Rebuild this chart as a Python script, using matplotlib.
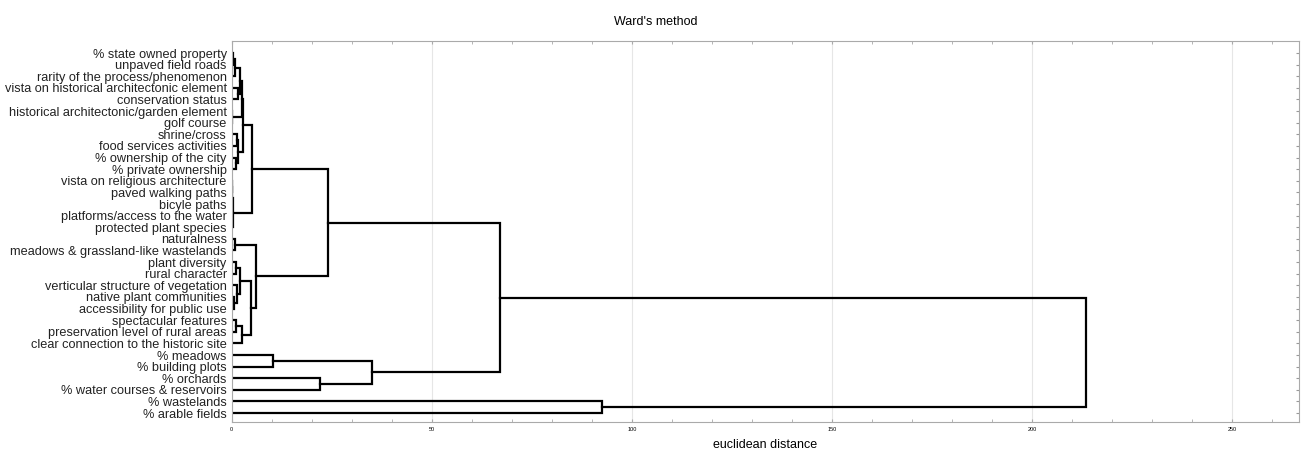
import matplotlib.pyplot as plt
import numpy as np

plt.rcParams['font.family'] = ['Liberation Sans', 'DejaVu Sans']

# leaf labels, top to bottom
labels = ['% state owned property', 'unpaved field roads', 'rarity of the process/phenomenon',
          'vista on historical architectonic element', 'conservation status',
          'historical architectonic/garden element', 'golf course', 'shrine/cross',
          'food services activities', '% ownership of the city', '% private ownership',
          'vista on religious architecture', 'paved walking paths', 'bicyle paths',
          'platforms/access to the water', 'protected plant species', 'naturalness',
          'meadows & grassland-like wastelands', 'plant diversity', 'rural character',
          'verticular structure of vegetation', 'native plant communities',
          'accessibility for public use', 'spectacular features',
          'preservation level of rural areas', 'clear connection to the historic site',
          '% meadows', '% building plots', '% orchards', '% water courses & reservoirs',
          '% wastelands', '% arable fields']

# merges: (child a, child b, distance); leaves are 0..31, new clusters get 32, 33, ...
merges = [
    (0, 1, 0.4),      # 32
    (32, 2, 0.9),     # 33
    (3, 4, 1.5),      # 34
    (33, 34, 2.2),    # 35
    (5, 6, 0.2),      # 36
    (35, 36, 2.6),    # 37
    (7, 8, 1.3),      # 38
    (9, 10, 1.0),     # 39
    (38, 39, 1.7),    # 40
    (37, 40, 2.8),    # 41
    (11, 12, 0.1),    # 42
    (13, 14, 0.1),    # 43
    (42, 43, 0.2),    # 44
    (44, 15, 0.3),    # 45
    (41, 45, 5.2),    # 46
    (16, 17, 0.8),    # 47
    (18, 19, 1.2),    # 48
    (21, 22, 0.6),    # 49
    (20, 49, 1.3),    # 50
    (48, 50, 2.2),    # 51
    (23, 24, 1.2),    # 52
    (52, 25, 2.7),    # 53
    (51, 53, 4.8),    # 54
    (47, 54, 6.2),    # 55
    (46, 55, 24.2),   # 56
    (26, 27, 10.3),   # 57
    (28, 29, 22.0),   # 58
    (57, 58, 35.0),   # 59
    (56, 59, 67.0),   # 60
    (30, 31, 92.5),   # 61
    (60, 61, 213.5),  # 62
]

n = len(labels)
pos = {i: float(i) for i in range(n)}
hgt = {i: 0.0 for i in range(n)}

fig = plt.figure(figsize=(13.01, 4.51), dpi=100)
ax = fig.add_axes([0.178, 0.064, 0.8205, 0.845])

for k, (a, b, d) in enumerate(merges):
    c = n + k
    ax.plot([hgt[a], d, d, hgt[b]], [pos[a], pos[a], pos[b], pos[b]],
            color='black', lw=1.6, solid_joinstyle='miter')
    pos[c] = (pos[a] + pos[b]) / 2
    hgt[c] = d

ax.set_xlim(0, 266.7)
ax.set_ylim(n - 1 + 0.78, -1.03)
ax.set_yticks(range(n))
ax.set_yticklabels(labels, fontsize=9.2, color='#222222')
ax.tick_params(axis='y', left=False, right=True, direction='in', length=2,
               color='#999999', pad=3.5)
ax.set_xticks(np.arange(0, 251, 50))
ax.set_xticks(np.arange(0, 261, 10), minor=True)
ax.tick_params(axis='x', which='both', top=True, direction='in', labelsize=4,
               color='#aaaaaa', length=2)
ax.grid(axis='x', which='major', color='#e6e6e6', lw=0.8)
ax.set_axisbelow(True)
for s in ax.spines.values():
    s.set_color('#aaaaaa')
    s.set_linewidth(0.8)

ax.set_xlabel('euclidean distance', fontsize=9, labelpad=5)
fig.text(0.504, 0.952, "Ward's method", ha='center', va='center', fontsize=9)

fig.savefig('out.png', dpi=100)
